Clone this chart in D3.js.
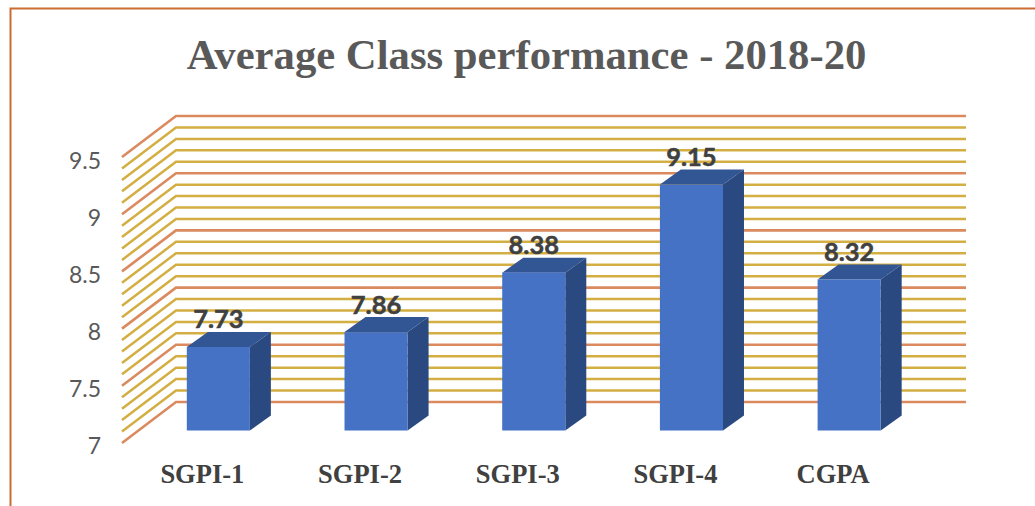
<!DOCTYPE html>
<html><head><meta charset="utf-8">
<script src="https://cdn.jsdelivr.net/npm/d3@7"></script>
<style>html,body{margin:0;padding:0;background:#fff}svg{display:block}</style>
</head><body><svg id="c" width="1035" height="506"></svg>
<script>
const categories=["SGPI-1","SGPI-2","SGPI-3","SGPI-4","CGPA"];
const values=[7.73,7.86,8.38,9.15,8.32];
const valueLabels=["7.73","7.86","8.38","9.15","8.32"];
const tickValues=[7,7.5,8,8.5,9,9.5];
const tickLabels=["7","7.5","8","8.5","9","9.5"];
const titleText="Average Class performance - 2018-20";

const svg=d3.select("#c");
const defs=svg.append("defs");
defs.append("filter").attr("id","soft").append("feGaussianBlur").attr("stdDeviation",0.6);

// frame
svg.append("path").attr("d","M10.5 506V8.5H1035").attr("fill","none").attr("stroke","#CB6C30").attr("stroke-width",2);

// scales
const yBack=d3.scaleLinear().domain([7,9.5]).range([402,116]);
const xCat=d3.scaleBand().domain(categories).range([139.5,928]).paddingInner(0.6).paddingOuter(0.3);
const wall={dx:54,dy:41,x0:122,x1:966};
const barDrop=28.5, depth={dx:21,dy:15};
const yBar=v=>yBack(v)+barDrop;

// gridlines
const grid=svg.append("g").attr("filter","url(#soft)").attr("fill","none");
const minor=d3.range(0,26).map(i=>7+i*0.1);
grid.selectAll("path").data(minor).join("path")
  .attr("d",v=>{const y=yBack(v);return d3.line()([[wall.x0,y+wall.dy],[wall.x0+wall.dx,y],[wall.x1,y]]);})
  .attr("stroke",(v,i)=>i%5===0?"#DB8A5E":"#D3AE42")
  .attr("stroke-width",(v,i)=>i%5===0?2.6:2.5);

// bars
const bars=svg.append("g").attr("filter","url(#soft)");
const g=bars.selectAll("g").data(categories.map((c,i)=>({c,v:values[i]}))).join("g");
const w=xCat.bandwidth();
g.append("path").attr("fill","#2A4A80").attr("d",d=>{
  const x=xCat(d.c)+w,t=yBar(d.v),b=yBar(7);
  return `M${x} ${t}l${depth.dx} ${-depth.dy}V${b-depth.dy}L${x} ${b}Z`;});
g.append("path").attr("fill","#335593").attr("d",d=>{
  const x=xCat(d.c),t=yBar(d.v);
  return `M${x} ${t}l${depth.dx} ${-depth.dy}h${w}l${-depth.dx} ${depth.dy}Z`;});
g.append("rect").attr("fill","#4472C4").attr("x",d=>xCat(d.c)).attr("y",d=>yBar(d.v)).attr("width",w).attr("height",d=>yBar(7)-yBar(d.v));

// text
svg.append("text").attr("x",526.5).attr("y",69).attr("text-anchor","middle")
  .attr("font-family","Liberation Serif").attr("font-weight","bold").attr("font-size",42.7).attr("fill","#595959").text(titleText);
svg.append("g").selectAll("text").data(tickValues).join("text")
  .attr("x",101).attr("y",(v,i)=>yBack(v)+wall.dy+11+i*0.2).attr("text-anchor","end")
  .attr("font-family","Lato").attr("font-size",23).attr("fill","#595959").text((v,i)=>tickLabels[i]);
svg.append("g").selectAll("text").data(categories).join("text")
  .attr("x",d=>xCat(d)+w/2-16).attr("y",483).attr("text-anchor","middle")
  .attr("font-family","Liberation Serif").attr("font-weight","bold").attr("font-size",26.5).attr("fill","#404040").text(d=>d);
svg.append("g").selectAll("text").data(values).join("text")
  .attr("x",(v,i)=>xCat(categories[i])+w/2).attr("y",v=>yBar(v)-18.5).attr("text-anchor","middle")
  .attr("font-family","Lato").attr("font-weight","bold").attr("font-size",25.5)
  .attr("stroke","#404040").attr("stroke-width",0.5).attr("fill","#404040").text((v,i)=>valueLabels[i]);
</script></body></html>
